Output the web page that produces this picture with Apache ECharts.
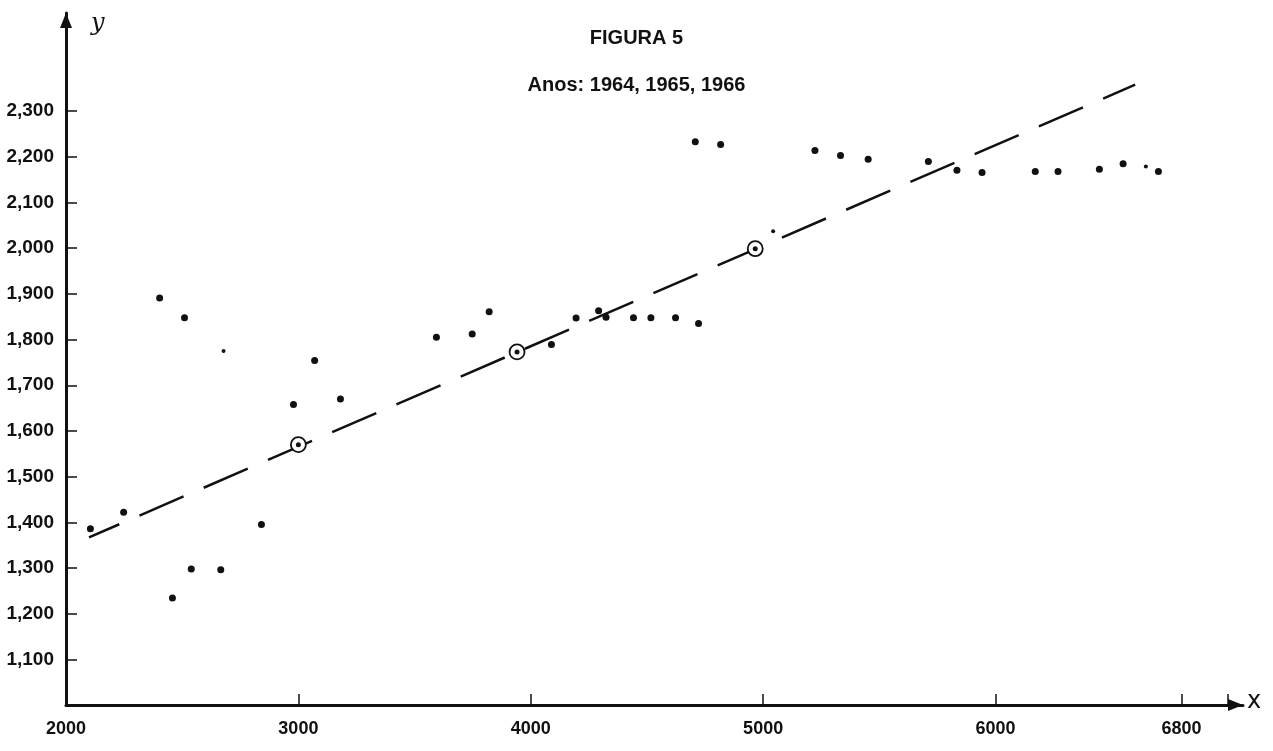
<!DOCTYPE html>
<html>
<head>
<meta charset="utf-8">
<script src="https://cdn.jsdelivr.net/npm/echarts@6/dist/echarts.min.js"></script>
<style>
  html, body { margin: 0; padding: 0; background: #fff; }
  #chart { width: 1273px; height: 751px; }
</style>
</head>
<body>
<div id="chart"></div>
<script>
// ---- Data ----
const pointsX = [2105, 2248, 2403, 2510, 2458, 2539, 2666, 2841, 2979, 3070, 3181,
                 3594, 3748, 3821, 4089, 4195, 4292, 4324, 4442, 4517, 4623, 4722,
                 4708, 4817, 5223, 5333, 5452, 5711, 5834, 5942, 6171, 6269, 6447, 6549, 6701];
const pointsY = [1386, 1422, 1891, 1848, 1234, 1298, 1296, 1395, 1658, 1754, 1670,
                 1805, 1812, 1861, 1789, 1847, 1863, 1849, 1848, 1848, 1848, 1835,
                 2233, 2227, 2214, 2203, 2195, 2190, 2171, 2166, 2168, 2168, 2173, 2185, 2168];
const smallX = [2678, 5043, 6647];
const smallY = [1775, 2037, 2179];
const meanX = [3000, 3941, 4966];
const meanY = [1570, 1773, 1999];
const trendX = [2099, 6601];
const trendY = [1367, 2358];

const xLabelValues = [2000, 3000, 4000, 5000, 6000, 6800];
const xTickValues = [3000, 4000, 5000, 6000, 6800, 7000];
const yTickValues = [1100, 1200, 1300, 1400, 1500, 1600, 1700, 1800, 1900, 2000, 2100, 2200, 2300];

const titleText = 'FIGURA 5';
const subtitleText = 'Anos: 1964, 1965, 1966';

const zip = (xs, ys) => xs.map((x, i) => [x, ys[i]]);
const ink = '#111';
const font = 'Liberation Sans, Arial, sans-serif';

const chart = echarts.init(document.getElementById('chart'), null, { renderer: 'canvas' });
chart.setOption({
  backgroundColor: '#fff',
  animation: false,
  title: {
    text: titleText,
    subtext: subtitleText,
    left: 'center',
    top: 28,
    padding: 0,
    itemGap: 27,
    textStyle: { fontFamily: font, fontSize: 20, fontWeight: 'bold', color: ink },
    subtextStyle: { fontFamily: font, fontSize: 20, fontWeight: 'bold', color: ink }
  },
  grid: { left: 66, right: 30, top: 13, bottom: 46 },
  xAxis: {
    type: 'value',
    min: 2000,
    max: 7065,
    axisLine: {
      show: true,
      onZero: false,
      symbol: ['none', 'triangle'],
      symbolSize: [12, 15],
      symbolOffset: [0, -7.5],
      lineStyle: { color: ink, width: 3 }
    },
    axisTick: {
      show: true,
      inside: true,
      length: 11,
      customValues: xTickValues,
      lineStyle: { color: ink, width: 1.5 }
    },
    axisLabel: {
      customValues: xLabelValues,
      margin: 15,
      fontFamily: font,
      fontSize: 18,
      fontWeight: 'bold',
      color: ink,
      formatter: v => String(v)
    },
    splitLine: { show: false }
  },
  yAxis: {
    type: 'value',
    min: 1000,
    max: 2515,
    axisLine: {
      show: true,
      onZero: false,
      symbol: ['none', 'triangle'],
      symbolSize: [12, 15],
      symbolOffset: [0, -7.5],
      lineStyle: { color: ink, width: 3 }
    },
    axisTick: {
      show: true,
      inside: true,
      length: 11,
      customValues: yTickValues,
      lineStyle: { color: ink, width: 1.5 }
    },
    axisLabel: {
      customValues: yTickValues,
      margin: 12,
      fontFamily: font,
      fontSize: 19,
      fontWeight: 'bold',
      color: ink,
      formatter: v => v.toLocaleString('en-US')
    },
    splitLine: { show: false }
  },
  graphic: [
    { type: 'text', left: 91, top: 12, style: { text: 'y', font: 'italic 24px "DejaVu Serif", serif', fill: ink } },
    { type: 'text', left: 1247, top: 690, style: { text: 'x', font: '24px "DejaVu Sans", sans-serif', fill: ink } }
  ],
  series: [
    {
      type: 'line',
      data: zip(trendX, trendY),
      symbol: 'none',
      z: 2,
      lineStyle: { color: ink, width: 2.5, type: [48, 22], dashOffset: 15, cap: 'butt' }
    },
    {
      type: 'scatter',
      data: zip(pointsX, pointsY),
      symbol: 'circle',
      symbolSize: 7,
      z: 3,
      itemStyle: { color: ink, opacity: 1 }
    },
    {
      type: 'scatter',
      data: zip(smallX, smallY),
      symbol: 'circle',
      symbolSize: 4,
      z: 3,
      itemStyle: { color: ink, opacity: 1 }
    },
    {
      type: 'scatter',
      data: zip(meanX, meanY),
      symbol: 'circle',
      symbolSize: 15,
      z: 4,
      itemStyle: { color: '#fff', borderColor: ink, borderWidth: 1.8, opacity: 1 }
    },
    {
      type: 'scatter',
      data: zip(meanX, meanY),
      symbol: 'circle',
      symbolSize: 5,
      z: 5,
      itemStyle: { color: ink, opacity: 1 }
    }
  ]
});
</script>
</body>
</html>
